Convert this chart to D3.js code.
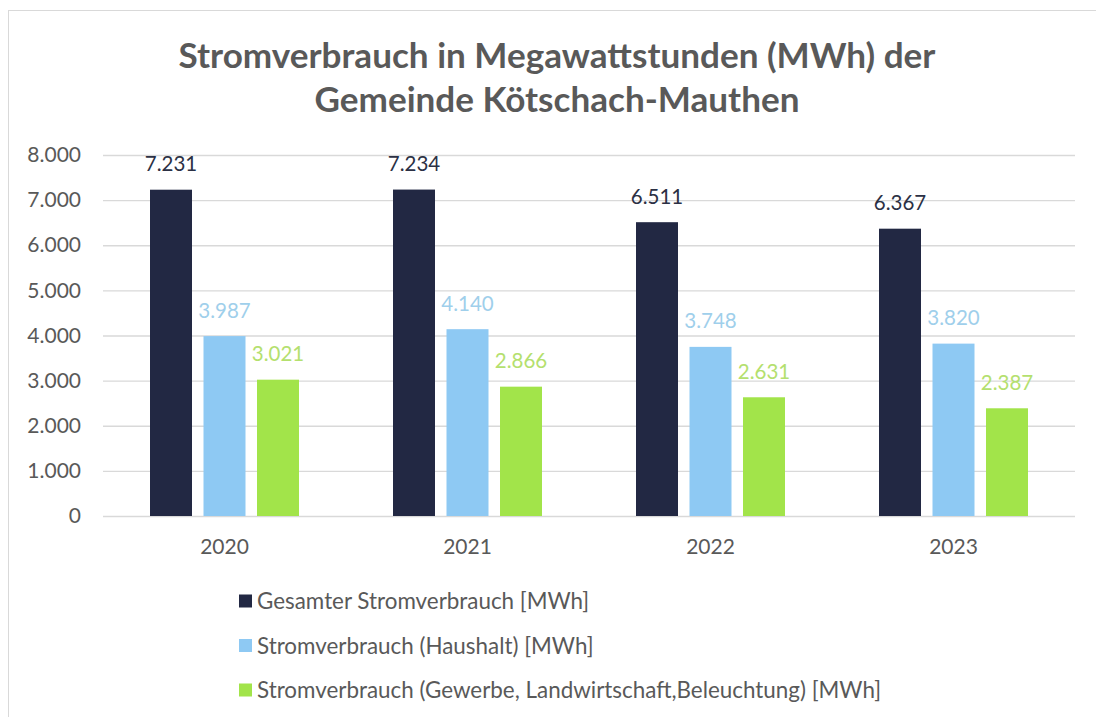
<!DOCTYPE html>
<html>
<head>
<meta charset="utf-8">
<script src="https://cdn.jsdelivr.net/npm/d3@7"></script>
<style>
  html, body { margin: 0; padding: 0; background: #fff; }
  svg { display: block; }
  text { font-family: Lato, "Open Sans", sans-serif; }
</style>
</head>
<body>
<svg id="chart" width="1096" height="717"></svg>
<script>
// Electricity consumption, municipality Kötschach-Mauthen (MWh)
const years = ["2020", "2021", "2022", "2023"];
const seriesNames = [
  "Gesamter Stromverbrauch [MWh]",
  "Stromverbrauch (Haushalt) [MWh]",
  "Stromverbrauch (Gewerbe, Landwirtschaft,Beleuchtung) [MWh]"
];
const totalValues = [7231, 7234, 6511, 6367];
const householdValues = [3987, 4140, 3748, 3820];
const businessValues = [3021, 2866, 2631, 2387];
const yTicks = [0, 1000, 2000, 3000, 4000, 5000, 6000, 7000, 8000];
const titleLines = ["Stromverbrauch in Megawattstunden (MWh) der", "Gemeinde Kötschach-Mauthen"];

const barColors = ["#222843", "#8ec9f3", "#a2e44a"];
const labelColors = ["#2b3044", "#9fcfeb", "#b4e06e"];
const textGrey = "#595959";

const svg = d3.select("#chart");
const W = 1096, H = 717;
const plot = { left: 103, right: 1075, top: 155, bottom: 516 };

// outer frame
svg.append("rect")
  .attr("x", 8.5).attr("y", 10.5)
  .attr("width", W + 10).attr("height", H + 10)
  .attr("fill", "#fff").attr("stroke", "#d9d9d9").attr("stroke-width", 1);

// number format with "." as thousands separator
const fmt = d3.formatLocale({ decimal: ",", thousands: ".", grouping: [3], currency: ["", "€"] }).format(",d");

// two-line title; both lines share one size, fitted so line 1 spans ~757px
const title = svg.append("g");
titleLines.forEach((line, i) => {
  title.append("text")
    .attr("x", 557).attr("y", 68 + i * 44)
    .attr("text-anchor", "middle")
    .attr("font-size", 30).attr("font-weight", 700)
    .attr("fill", textGrey)
    .text(line);
});
{
  const first = title.select("text").node();
  const k = 757 / first.getComputedTextLength();
  title.selectAll("text").attr("font-size", 30 * k);
}

const x0 = d3.scaleBand().domain(years).range([plot.left, plot.right]);
const x1 = d3.scaleBand().domain(d3.range(3)).range([47, 196]).paddingInner(0.215).paddingOuter(0);
const y = d3.scaleLinear().domain([0, 8000]).range([plot.bottom, plot.top]);

// grid + y tick labels
const yAxis = d3.axisLeft(y).tickValues(yTicks).tickSize(-(plot.right - plot.left)).tickFormat(fmt).tickPadding(22);
const gy = svg.append("g").attr("transform", `translate(${plot.left},0)`).call(yAxis);
gy.select(".domain").remove();
gy.selectAll(".tick line").attr("stroke", "#d9d9d9").attr("stroke-width", 1.3);
gy.selectAll(".tick text").attr("fill", textGrey).attr("font-size", 21)
  .style("font-family", "Lato, 'Open Sans', sans-serif");

// year labels
const xAxis = d3.axisBottom(x0).tickSize(0).tickPadding(23);
const gx = svg.append("g").attr("transform", `translate(0,${plot.bottom})`).call(xAxis);
gx.select(".domain").remove();
gx.selectAll(".tick text").attr("fill", textGrey).attr("font-size", 21)
  .style("font-family", "Lato, 'Open Sans', sans-serif");

const seriesValues = [totalValues, householdValues, businessValues];
const rows = years.map((yr, i) => ({ year: yr, values: seriesValues.map(s => s[i]) }));

const groups = svg.append("g").selectAll("g").data(rows).join("g")
  .attr("transform", d => `translate(${x0(d.year)},0)`);

groups.selectAll("rect").data(d => d.values.map((v, j) => ({ v, j }))).join("rect")
  .attr("x", d => x1(d.j))
  .attr("width", x1.bandwidth())
  .attr("y", d => y(d.v))
  .attr("height", d => y(0) - y(d.v))
  .attr("fill", d => barColors[d.j]);

groups.selectAll("text.val").data(d => d.values.map((v, j) => ({ v, j }))).join("text")
  .attr("class", "val")
  .attr("x", d => x1(d.j) + x1.bandwidth() / 2)
  .attr("y", d => y(d.v) - 18.5)
  .attr("text-anchor", "middle")
  .attr("font-size", 20.5)
  .attr("fill", d => labelColors[d.j])
  .text(d => fmt(d.v));

// legend
const legend = svg.append("g");
seriesNames.forEach((name, i) => {
  const cy = 601 + i * 44.5;
  legend.append("rect").attr("x", 239).attr("y", cy - 6.5).attr("width", 13).attr("height", 13).attr("fill", barColors[i]);
  legend.append("text").attr("x", 257).attr("y", cy + 8)
    .attr("font-size", 22.4).attr("fill", textGrey).text(name);
});
</script>
</body>
</html>
